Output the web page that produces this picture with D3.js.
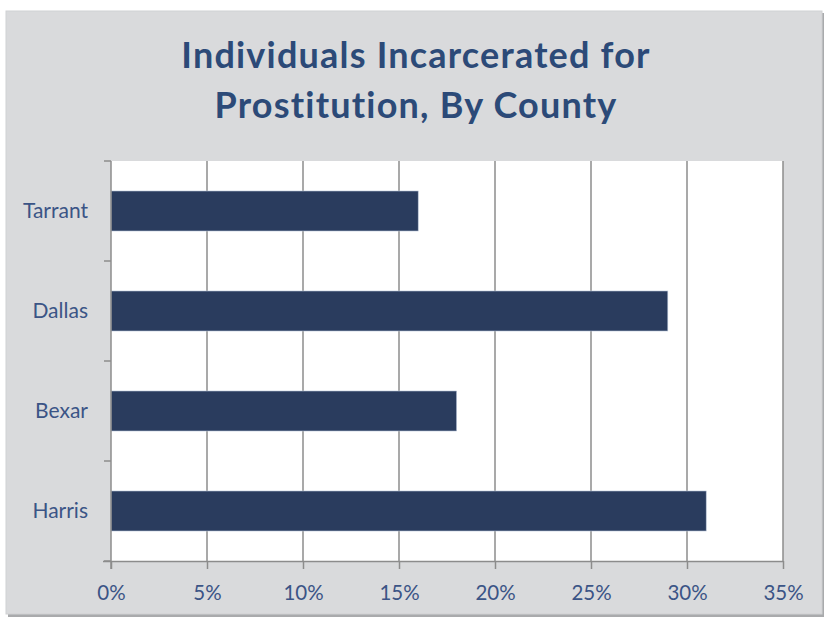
<!DOCTYPE html>
<html>
<head>
<meta charset="utf-8">
<script src="https://cdn.jsdelivr.net/npm/d3@7"></script>
<style>
  body { margin: 0; background: #fff; }
  svg text { font-family: Lato, "Open Sans", sans-serif; font-variant-ligatures: none; }
</style>
</head>
<body>
<div id="chart"></div>
<script>
const counties = ['Tarrant', 'Dallas', 'Bexar', 'Harris']
const shares = [16, 29, 18, 31]
const xTicks = [0, 5, 10, 15, 20, 25, 30, 35]
const titleLines = ['Individuals Incarcerated for', 'Prostitution, By County']

const width = 825
const height = 618
const plot = { left: 111, right: 783, top: 161, bottom: 561 }

const svg = d3.select('#chart').append('svg')
  .attr('width', width)
  .attr('height', height)

// chart frame with a soft shadow
svg.append('rect')
  .attr('x', 8).attr('y', 13)
  .attr('width', 816).attr('height', 604)
  .attr('fill', '#a9aaac')
svg.append('rect')
  .attr('x', 6).attr('y', 11)
  .attr('width', 816).attr('height', 603)
  .attr('fill', '#d9dadc')
  .attr('stroke', '#d0d1d3')

// title
svg.append('text')
  .attr('x', 416)
  .attr('text-anchor', 'middle')
  .attr('fill', '#2c4a78')
  .attr('font-size', 36)
  .attr('font-weight', 700)
  .attr('letter-spacing', 1.2)
  .selectAll('tspan')
  .data(titleLines)
  .enter().append('tspan')
  .attr('x', 416)
  .attr('y', (d, i) => 68 + i * 50)
  .text(d => d)

// plot area
svg.append('rect')
  .attr('x', plot.left).attr('y', plot.top)
  .attr('width', plot.right - plot.left)
  .attr('height', plot.bottom - plot.top)
  .attr('fill', '#fff')

const xScale = d3.scaleLinear()
  .domain([0, 35])
  .range([plot.left, plot.right])

const yScale = d3.scaleBand()
  .domain(counties)
  .range([plot.top, plot.bottom])
  .paddingInner(0.6)
  .paddingOuter(0.3)

// vertical gridlines
svg.append('g')
  .selectAll('line')
  .data(xTicks.slice(1))
  .enter().append('line')
  .attr('x1', d => xScale(d)).attr('x2', d => xScale(d))
  .attr('y1', plot.top).attr('y2', plot.bottom)
  .attr('stroke', '#8c8c8c')
  .attr('stroke-width', 1.5)

// bars
svg.append('g')
  .selectAll('rect')
  .data(shares)
  .enter().append('rect')
  .attr('x', xScale(0))
  .attr('y', (d, i) => yScale(counties[i]))
  .attr('width', d => xScale(d) - xScale(0))
  .attr('height', yScale.bandwidth())
  .attr('fill', '#2a3c5e')
  .attr('stroke', '#b6c2d6')
  .attr('stroke-width', 0.6)

// x axis
const xAxis = svg.append('g')
  .attr('transform', `translate(0, ${plot.bottom})`)
  .call(d3.axisBottom(xScale).tickValues(xTicks).tickFormat(d => d + '%').tickSize(8).tickPadding(16))
xAxis.select('.domain').attr('stroke', '#8c8c8c').attr('stroke-width', 1.5)
  .attr('d', `M${plot.left - 8},0.5H${plot.right}`)
xAxis.selectAll('.tick line').attr('stroke', '#8c8c8c').attr('stroke-width', 1.5)
xAxis.selectAll('.tick text')
  .attr('fill', '#3b5486')
  .attr('font-size', 20.5)
  .attr('font-family', 'Lato, sans-serif')

// y axis: ticks sit on band boundaries
const yAxis = svg.append('g')
  .attr('transform', `translate(${plot.left}, 0)`)
yAxis.append('line')
  .attr('y1', plot.top).attr('y2', plot.bottom + 8)
  .attr('stroke', '#8c8c8c')
  .attr('stroke-width', 1.5)
yAxis.selectAll('.ytick')
  .data(d3.range(counties.length + 1))
  .enter().append('line')
  .attr('class', 'ytick')
  .attr('x1', -7).attr('x2', 0)
  .attr('y1', i => plot.top + i * (plot.bottom - plot.top) / counties.length)
  .attr('y2', i => plot.top + i * (plot.bottom - plot.top) / counties.length)
  .attr('stroke', '#8c8c8c')
  .attr('stroke-width', 1.5)
yAxis.selectAll('.ylabel')
  .data(counties)
  .enter().append('text')
  .attr('class', 'ylabel')
  .attr('x', -23)
  .attr('y', d => yScale(d) + yScale.bandwidth() / 2)
  .attr('dy', '0.35em')
  .attr('text-anchor', 'end')
  .attr('fill', '#3b5486')
  .attr('font-size', 21)
  .text(d => d)
</script>
</body>
</html>
